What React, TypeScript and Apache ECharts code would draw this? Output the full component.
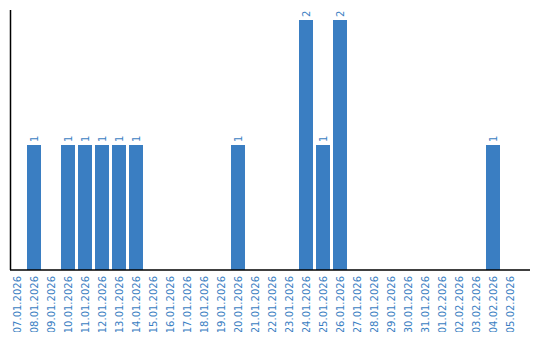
import React, { useEffect, useRef } from "react";
import * as echarts from "echarts";

const categories: string[] = [
  "07.01.2026", "08.01.2026", "09.01.2026", "10.01.2026", "11.01.2026",
  "12.01.2026", "13.01.2026", "14.01.2026", "15.01.2026", "16.01.2026",
  "17.01.2026", "18.01.2026", "19.01.2026", "20.01.2026", "21.01.2026",
  "22.01.2026", "23.01.2026", "24.01.2026", "25.01.2026", "26.01.2026",
  "27.01.2026", "28.01.2026", "29.01.2026", "30.01.2026", "31.01.2026",
  "01.02.2026", "02.02.2026", "03.02.2026", "04.02.2026", "05.02.2026",
];

const counts: number[] = [
  0, 1, 0, 1, 1,
  1, 1, 1, 0, 0,
  0, 0, 0, 1, 0,
  0, 0, 2, 1, 2,
  0, 0, 0, 0, 0,
  0, 0, 0, 1, 0,
];

const BLUE = "#3a7ec2";

export default function App() {
  const ref = useRef<HTMLDivElement>(null);

  useEffect(() => {
    if (!ref.current) return;
    const chart = echarts.init(ref.current, undefined, { renderer: "svg" });
    chart.setOption({
      animation: false,
      backgroundColor: "#ffffff",
      textStyle: { fontFamily: "DejaVu Sans" },
      grid: { left: 8.5, top: 10, width: 510, height: 260, containLabel: false },
      xAxis: {
        type: "category",
        data: categories,
        boundaryGap: true,
        axisLine: { show: false },
        axisTick: { show: false },
        splitLine: { show: false },
        axisLabel: {
          interval: 0,
          rotate: 90,
          margin: 6,
          color: BLUE,
          fontSize: 10,
          fontFamily: "DejaVu Sans",
        },
      },
      yAxis: {
        type: "value",
        min: 0,
        max: 2.08,
        axisLine: { show: false },
        axisTick: { show: false },
        axisLabel: { show: false },
        splitLine: { show: false },
      },
      graphic: [
        {
          type: "line",
          shape: { x1: 10.5, y1: 10, x2: 10.5, y2: 270 },
          style: { stroke: "#000", lineWidth: 1.5 },
          z: 10,
        },
        {
          type: "line",
          shape: { x1: 10, y1: 270, x2: 530, y2: 270 },
          style: { stroke: "#000", lineWidth: 1.5 },
          z: 10,
        },
      ],
      series: [
        {
          type: "bar",
          data: counts.map((v) => (v === 0 ? null : v)),
          barWidth: 14,
          itemStyle: { color: BLUE },
          label: {
            show: true,
            position: "top",
            rotate: 90,
            align: "left",
            verticalAlign: "middle",
            distance: 3,
            color: BLUE,
            fontSize: 10,
            fontFamily: "DejaVu Sans",
          },
        },
      ],
    });
    return () => chart.dispose();
  }, []);

  return <div ref={ref} style={{ width: 540, height: 340, margin: -8 }} />;
}
